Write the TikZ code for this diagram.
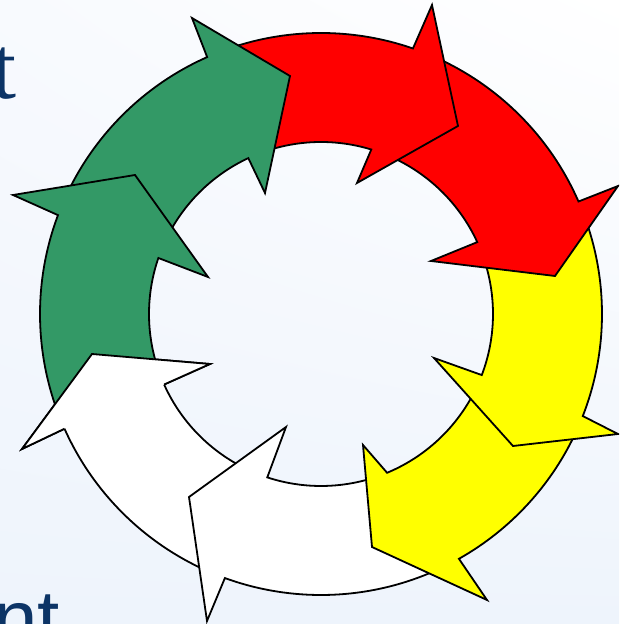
\documentclass[tikz,border=0pt]{standalone}
\usepackage{fontspec}
\setmainfont{Liberation Serif}
\newfontfamily\bodyfont{Liberation Sans}
\usetikzlibrary{calc,shadings}

\definecolor{bgblue}{RGB}{238,244,252}
\definecolor{bglight}{RGB}{248,250,254}
\definecolor{pgreen}{RGB}{51,153,102}
\definecolor{pred}{RGB}{255,0,0}
\definecolor{pyellow}{RGB}{255,255,0}
\definecolor{navy}{RGB}{12,52,102}

\tikzset{
  arrowshape/.style={draw=black, line width=1.8pt, line join=miter},
  slidetext/.style={text=navy, inner sep=0pt, font=\fontsize{90}{90}\selectfont},
}

% #1 colour, #2 tail outer angle, #3 tail inner angle, #4 base outer angle,
% #5 base inner angle, #6 outer barb, #7 tip, #8 inner barb
\newcommand{\cyclearrow}[8]{%
  \path[arrowshape, fill=#1]
    ($(C)+(#2:\Ro)$) arc[start angle=#2, end angle=#4, radius=\Ro]
    -- #6 -- #7 -- #8
    -- ($(C)+(#5:\Ri)$) arc[start angle=#5, end angle=#3, radius=\Ri]
    -- cycle;
}

\begin{document}
\begin{tikzpicture}[x=1pt,y=1pt]
  \def\Ro{281pt}
  \def\Ri{172pt}
  \useasboundingbox (0,0) rectangle (619,624);
  \clip (0,0) rectangle (619,624);
  \shade[upper left=bglight, upper right=white, lower left=bgblue, lower right=bgblue]
    (0,0) rectangle (619,624);

  \coordinate (C) at (321,310);

  % slide text fragments
  \node[slidetext, anchor=base east] (ttop) at (17,525) {t};
  \node[slidetext, anchor=base east, font=\bodyfont\fontsize{80}{80}\selectfont] (tbot) at (60,-22) {nt};

  % arrows, drawn in reverse order so that each head lies over the next tail
  \cyclearrow{white}{-113}{-111.2}{-155.9}{-155.8}{(22,175)}{(92,270)}{(210,260)}
  \cyclearrow{white}{-63.6}{-70.4}{-110}{-108.2}{(207,3)}{(189,127)}{(286,197)}
  \cyclearrow{pyellow}{-24.3}{-23.8}{-60.6}{-67.4}{(487,24)}{(372,77)}{(363,179)}
  \cyclearrow{pyellow}{20.6}{21.7}{-21.3}{-20.8}{(618,190)}{(513,178)}{(434,266)}
  \cyclearrow{pred}{67.9}{70}{23.6}{24.7}{(618,438)}{(555,348)}{(431,363)}
  \cyclearrow{pred}{110.9}{112}{70.9}{73}{(432,619)}{(458,498)}{(357,441)}
  \cyclearrow{pgreen}{156.4}{158}{113.9}{115}{(192,606)}{(290,548)}{(265,431)}
  \cyclearrow{pgreen}{201.1}{201.2}{159.4}{161}{(13,429)}{(135,449)}{(208,347)}

  % head of the last white arrow, over the tail of the first green one
  \fill[white] ($(C)+(-155.9:\Ro)$) -- (22,175) -- (92,270) -- (210,260) -- ($(C)+(-155.8:\Ri)$) -- cycle;
  \draw[arrowshape] ($(C)+(-155.9:\Ro)$) -- (22,175) -- (92,270) -- (210,260) -- ($(C)+(-155.8:\Ri)$);
\end{tikzpicture}
\end{document}
